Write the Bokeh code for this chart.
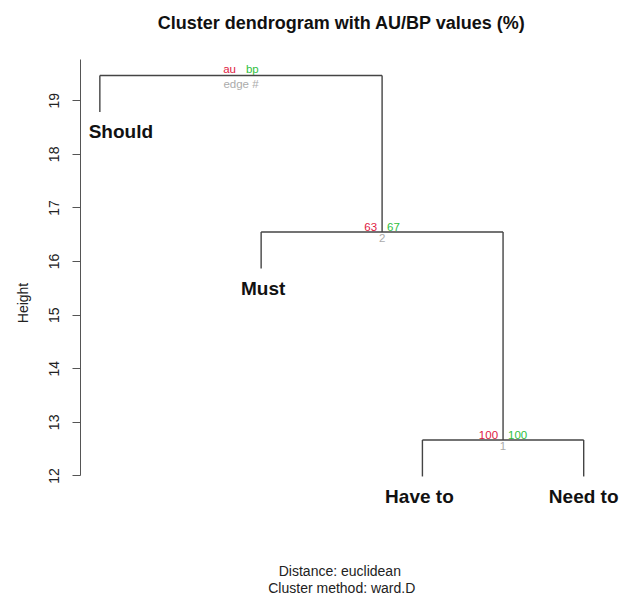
from bokeh.plotting import figure
from bokeh.models import Range1d, FixedTicker
from bokeh.core.properties import value
from bokeh.embed import file_html
from bokeh.resources import INLINE

# ---- data (hclust-style) ----
leaf_labels = ["Should", "Must", "Have to", "Need to"]
merge_left = [-3, -2, -1]      # negative = leaf (1-based), positive = earlier merge
merge_right = [-4, 1, 2]
merge_height = [12.67, 16.55, 19.47]
au_values = [100, 63]
bp_values = [100, 67]
edge_ids = [1, 2]
header_labels = ["au", "bp", "edge #"]
y_ticks = [12, 13, 14, 15, 16, 17, 18, 19]
title_text = "Cluster dendrogram with AU/BP values (%)"
sub_lines = ["Distance:  euclidean", "Cluster method: ward.D"]

FONT = "Liberation Sans"
LINE = "#444444"
RED = "#E0193F"
GREEN = "#2FC040"
GRAY = "#ABABAB"

n = len(leaf_labels)
hang = 0.1 * (max(merge_height) - min(merge_height))

node_x = {}
seg_x0, seg_y0, seg_x1, seg_y1 = [], [], [], []
leaf_x, leaf_y = [0.0] * n, [0.0] * n
for k, (l, r) in enumerate(zip(merge_left, merge_right)):
    h = merge_height[k]
    xs = []
    for c in (l, r):
        if c < 0:
            i = -c - 1
            cx = float(i + 1)
            cy = h - hang
            leaf_x[i] = cx
            leaf_y[i] = cy
        else:
            cx = node_x[c - 1]
            cy = merge_height[c - 1]
        seg_x0.append(cx); seg_y0.append(cy); seg_x1.append(cx); seg_y1.append(h)
        xs.append(cx)
    seg_x0.append(xs[0]); seg_y0.append(h); seg_x1.append(xs[1]); seg_y1.append(h)
    node_x[k] = (xs[0] + xs[1]) / 2

leaf_min = min(leaf_y)
y_top = max(merge_height) + 0.04 * (max(merge_height) - leaf_min)
x_pad = 0.04 * (n - 1)
x_end = 4.253   # extra room on the right so the last label is not clipped

H = 605
TOP = 59            # pixel position of the plot-region top
PX_PER_UNIT = 53.6
y_bottom = y_top - (H - TOP) / PX_PER_UNIT
y_canvas_top = y_top + TOP / PX_PER_UNIT

p = figure(width=624, height=H, output_backend="svg", toolbar_location=None,
           x_range=Range1d(1 - x_pad, x_end),
           y_range=Range1d(y_bottom, y_canvas_top),
           min_border_left=80, min_border_right=0, min_border_top=0,
           min_border_bottom=0)
p.outline_line_color = None
p.xgrid.visible = False
p.ygrid.visible = False
p.xaxis.visible = False

yax = p.yaxis[0]
yax.ticker = FixedTicker(ticks=y_ticks)
yax.bounds = (min(y_ticks), y_top)
yax.major_tick_out = 8
yax.major_tick_in = 0
yax.minor_tick_line_color = None
yax.axis_line_color = "#555555"
yax.major_tick_line_color = "#555555"
yax.major_label_orientation = "vertical"
yax.major_label_text_font = FONT
yax.major_label_text_font_size = "14px"
yax.major_label_text_color = "#222222"
yax.major_label_standoff = 13
yax.axis_label = "Height"
yax.axis_label_text_font = FONT
yax.axis_label_text_font_style = "normal"
yax.axis_label_text_font_size = "14px"
yax.axis_label_text_color = "#222222"
yax.axis_label_standoff = 16

# tree edges
p.segment(seg_x0, seg_y0, seg_x1, seg_y1, line_color=LINE, line_width=1.4)

# leaf labels
label_dx = [21, 2, -3, 0]
p.text(x=leaf_x, y=leaf_y, text=leaf_labels, x_offset=label_dx, y_offset=20,
       text_align="center", text_baseline="middle", text_font=value(FONT),
       text_font_style="bold", text_font_size="19px", text_color="#111111")

# au / bp / edge values on inner nodes
nx = [node_x[k] for k in range(len(au_values))]
ny = [merge_height[k] for k in range(len(au_values))]
small = "11.5px"
p.text(x=nx, y=ny, text=[str(v) for v in au_values], x_offset=-5, y_offset=-1,
       text_align="right", text_baseline="bottom", text_font=value(FONT),
       text_font_size=small, text_color=RED)
p.text(x=nx, y=ny, text=[str(v) for v in bp_values], x_offset=5, y_offset=-1,
       text_align="left", text_baseline="bottom", text_font=value(FONT),
       text_font_size=small, text_color=GREEN)
p.text(x=nx, y=ny, text=[str(v) for v in edge_ids], y_offset=2,
       text_align="center", text_baseline="top", text_font=value(FONT),
       text_font_size=small, text_color=GRAY)

# header at root
root = len(merge_height) - 1
rx, ry = [node_x[root]], [merge_height[root]]
p.text(x=rx, y=ry, text=[header_labels[0]], x_offset=-5, y_offset=-1,
       text_align="right", text_baseline="bottom", text_font=value(FONT),
       text_font_size=small, text_color=RED)
p.text(x=rx, y=ry, text=[header_labels[1]], x_offset=5, y_offset=-1,
       text_align="left", text_baseline="bottom", text_font=value(FONT),
       text_font_size=small, text_color=GREEN)
p.text(x=rx, y=ry, text=[header_labels[2]], y_offset=2,
       text_align="center", text_baseline="top", text_font=value(FONT),
       text_font_size=small, text_color=GRAY)

# title and sub text, centred over / under the plot region
cx = (1 + n) / 2
p.text(x=[cx], y=[y_top], text=[title_text], y_offset=-37,
       text_align="center", text_baseline="middle", text_font=value(FONT),
       text_font_style="bold", text_font_size="18px", text_color="#111111")
p.text(x=[cx, cx], y=[leaf_min, leaf_min], text=sub_lines, y_offset=[95, 112],
       text_align="center", text_baseline="middle", text_font=value(FONT),
       text_font_size="14px", text_color="#222222")

open("out.html", "w").write(file_html(p, INLINE))
